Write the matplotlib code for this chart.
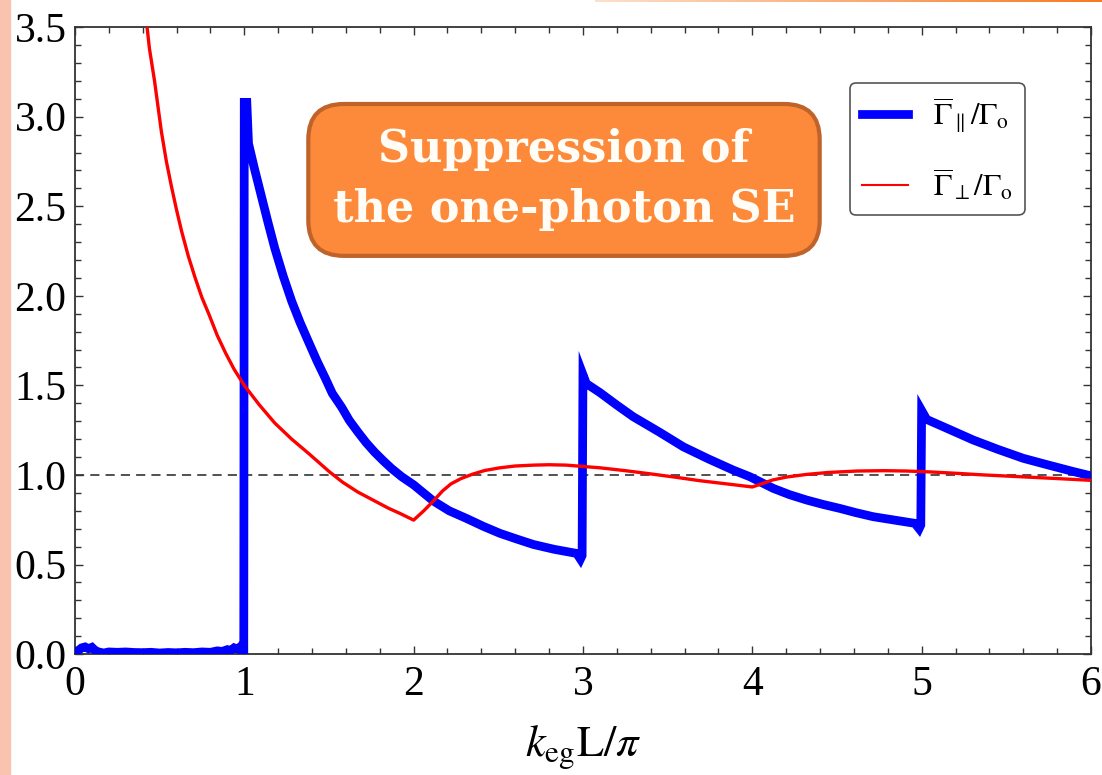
import numpy as np
import matplotlib
matplotlib.use('Agg')
import matplotlib.pyplot as plt
from matplotlib.patches import Rectangle

plt.rcParams['font.family'] = ['Liberation Serif', 'DejaVu Serif']
plt.rcParams['mathtext.fontset'] = 'stix'

# values
# parallel component (thick blue)
x_par = [0.0, 0.02, 0.04, 0.06, 0.08, 0.10, 0.12, 0.14, 0.17, 0.2, 0.25, 0.3, 0.35, 0.4, 0.45, 0.5,
         0.55, 0.6, 0.65, 0.7, 0.75, 0.8, 0.84, 0.87, 0.9, 0.92, 0.94, 0.96, 0.975, 0.99, 0.997,
         1.0, 1.015, 1.025, 1.06, 1.10, 1.14, 1.18, 1.23, 1.28, 1.33, 1.38, 1.43, 1.48, 1.52,
         1.575, 1.62, 1.67, 1.72, 1.77, 1.82, 1.87, 1.93, 2.0,
         2.116, 2.21, 2.313, 2.41, 2.51, 2.61, 2.707, 2.83, 2.963, 2.985, 2.995,
         3.0, 3.02, 3.1, 3.2, 3.297, 3.45, 3.593, 3.74, 3.888, 3.986,
         4.124, 4.22, 4.321, 4.42, 4.518, 4.61, 4.714, 4.84, 4.96, 4.985, 4.995,
         5.0, 5.03, 5.15, 5.305, 5.45, 5.60, 5.75, 5.896, 6.0]
g_par = [0.0, 0.02, 0.035, 0.04, 0.03, 0.038, 0.02, 0.012, 0.006, 0.012, 0.01, 0.012, 0.009, 0.008, 0.01, 0.006,
         0.009, 0.007, 0.01, 0.008, 0.012, 0.01, 0.018, 0.015, 0.025, 0.02, 0.035, 0.028, 0.04, 0.03, 0.0,
         3.08, 3.08, 2.85, 2.71, 2.56, 2.41, 2.266, 2.11, 1.97, 1.85, 1.742, 1.635, 1.537, 1.455,
         1.378, 1.305, 1.241, 1.18, 1.127, 1.08, 1.036, 0.99, 0.945,
         0.855, 0.80, 0.757, 0.714, 0.674, 0.642, 0.612, 0.585, 0.562, 0.53, 0.55,
         1.56, 1.51, 1.46, 1.39, 1.325, 1.24, 1.157, 1.09, 1.027, 0.99,
         0.925, 0.89, 0.86, 0.835, 0.813, 0.79, 0.767, 0.748, 0.73, 0.70, 0.72,
         1.36, 1.31, 1.26, 1.195, 1.143, 1.093, 1.055, 1.019, 0.995]

# perpendicular component (thin red)
x_perp = [0.42, 0.44, 0.47, 0.49, 0.51, 0.54, 0.57, 0.60, 0.63, 0.67, 0.71, 0.75, 0.79, 0.84, 0.89,
          0.94, 1.0, 1.09, 1.18, 1.28, 1.38, 1.5, 1.58, 1.67, 1.78, 1.85, 1.92, 2.0,
          2.06, 2.12, 2.17, 2.22, 2.28, 2.35, 2.42, 2.51, 2.6, 2.71, 2.8, 2.9,
          3.1, 3.25, 3.4, 3.55, 3.69, 3.85, 4.0,
          4.06, 4.12, 4.2, 4.32, 4.45, 4.62, 4.78, 4.91, 5.05, 5.21, 5.35, 5.5, 5.65, 5.8, 6.0]
g_perp = [3.55, 3.38, 3.20, 3.06, 2.92, 2.75, 2.61, 2.48, 2.36, 2.22, 2.10, 1.99, 1.90, 1.78, 1.68,
          1.59, 1.50, 1.39, 1.29, 1.20, 1.12, 1.02, 0.96, 0.905, 0.85, 0.815, 0.785, 0.748,
          0.80, 0.858, 0.91, 0.95, 0.98, 1.005, 1.025, 1.04, 1.05, 1.055, 1.057, 1.055,
          1.04, 1.024, 1.006, 0.987, 0.968, 0.95, 0.933,
          0.952, 0.972, 0.988, 1.003, 1.014, 1.022, 1.024, 1.022, 1.017, 1.009, 1.001, 0.994, 0.987, 0.98, 0.97]

xticks = [0, 1, 2, 3, 4, 5, 6]
yticks = [0.0, 0.5, 1.0, 1.5, 2.0, 2.5, 3.0, 3.5]

fig = plt.figure(figsize=(11.02, 7.75), dpi=100)
ax = fig.add_axes([0.068, 0.156, 0.922, 0.809])

# slide decorations
fig.patches.append(Rectangle((0, 0), 0.009, 1, transform=fig.transFigure, color='#FAC3AF', zorder=0))
gax = fig.add_axes([0.54, 0.997, 0.46, 0.003])
gax.imshow(np.linspace(0, 1, 200)[None, :], aspect='auto',
           cmap=matplotlib.colors.LinearSegmentedColormap.from_list('g', ['#FCE0CC', '#F77A22']))
gax.axis('off')

ax.axhline(1.0, color='#222222', lw=1.1, ls=(0, (6, 4)), zorder=1)
ax.plot(x_par, g_par, color='#0000FF', lw=6.3, solid_joinstyle='miter',
        label=r'$\overline{\Gamma}_{\parallel}/\Gamma_{\mathrm{o}}$', zorder=3)
ax.plot(x_perp, g_perp, color='#FF0000', lw=2.4, label=r'$\overline{\Gamma}_{\perp}/\Gamma_{\mathrm{o}}$', zorder=4)

ax.set_xlim(0, 6)
ax.set_ylim(0, 3.5)
ax.set_xticks(xticks)
ax.set_yticks(yticks)
ax.set_yticklabels([f'{v:.1f}' for v in yticks])
ax.set_xticks(np.arange(0, 6.01, 0.2), minor=True)
ax.set_yticks(np.arange(0, 3.51, 0.1), minor=True)
ax.tick_params(which='both', direction='in', top=True, right=True, width=1.0, color='#333333')
ax.tick_params(which='major', length=6, labelsize=30, pad=8)
ax.tick_params(axis='y', which='major', pad=6)
ax.tick_params(which='minor', length=4)
for s in ax.spines.values():
    s.set_color('#333333')
    s.set_linewidth(1.3)

ax.set_xlabel(r'$k_{\mathrm{eg}}\mathrm{L}/\pi$', fontsize=32, labelpad=14)

leg = ax.legend(loc='upper left', bbox_to_anchor=(0.763, 0.911), borderaxespad=0, fontsize=22,
                handlelength=1.5, labelspacing=1.05, fancybox=True, framealpha=1, edgecolor='#555555')
leg.get_frame().set_linewidth(1.2)
leg.legend_handles[1].set_linewidth(1.5)

ax.text(2.888, 2.647, 'Suppression of\nthe one-photon SE', ha='center', va='center', color='#FFFDF6',
        fontsize=32, fontweight='bold', family='DejaVu Serif', linespacing=1.5, zorder=6,
        bbox=dict(boxstyle='round,pad=0.55,rounding_size=0.8', fc='#FD8A3A', ec='#C0632A', lw=3))

plt.savefig('out.png', dpi=100)
